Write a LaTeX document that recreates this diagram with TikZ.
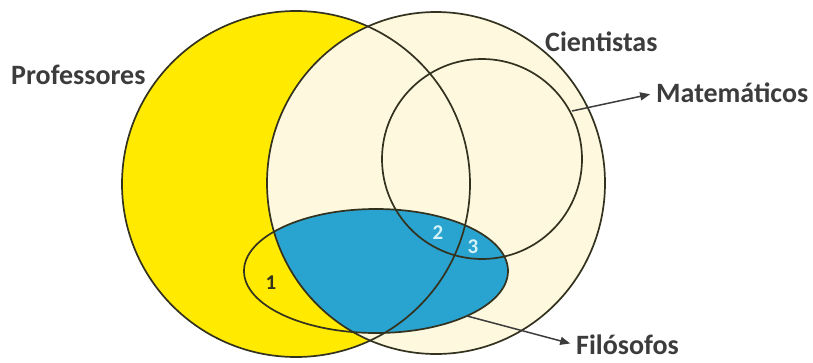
\documentclass[tikz,border=0pt]{standalone}
\usepackage{fontspec}
\setmainfont{Carlito}
\usetikzlibrary{arrows.meta}
\definecolor{profyellow}{HTML}{FFEA00}
\definecolor{cream}{HTML}{FDF8DE}
\definecolor{filblue}{HTML}{29A3CF}
\definecolor{edge}{HTML}{33321F}
\definecolor{txt}{HTML}{3C3C3C}
\definecolor{numlight}{HTML}{D4F2F8}
\tikzset{
  outline/.style={draw=edge, line width=1.7pt},
  setlabel/.style={font=\fontsize{28}{30}\selectfont\bfseries, text=txt, inner sep=0pt},
  numlabel/.style={font=\fontsize{21}{23}\selectfont\bfseries, inner sep=0pt},
  pointer/.style={draw=txt, line width=1.5pt, shorten >=6pt, -{Triangle[length=10pt,width=8pt]}}
}
\begin{document}
\begin{tikzpicture}[x=1pt,y=-1pt]
\useasboundingbox (0,0) rectangle (813,362);
% fills
\fill[profyellow] (296,184) ellipse [x radius=174pt, y radius=173pt];
\fill[cream] (436,183) ellipse [x radius=169pt, y radius=171pt];
\begin{scope}
  \clip (436,183) ellipse [x radius=169pt, y radius=171pt];
  \fill[filblue] (376,271) ellipse [x radius=132pt, y radius=62pt];
\end{scope}
% outlines
\draw[outline] (296,184) ellipse [x radius=174pt, y radius=173pt];
\draw[outline] (436,183) ellipse [x radius=169pt, y radius=171pt];
\draw[outline] (482,159) ellipse [x radius=100pt, y radius=100pt];
\draw[outline] (376,271) ellipse [x radius=132pt, y radius=62pt];
% labels
\node[setlabel, anchor=west] (prof) at (11,75) {Professores};
\node[setlabel, anchor=west] (cient) at (545,42) {Cientistas};
\node[setlabel, anchor=west] (mat) at (656,93) {Matemáticos};
\node[setlabel, anchor=west] (fil) at (576,345) {Filósofos};
% pointers
\coordinate (matstart) at (572,111);
\coordinate (filstart) at (467,316);
\draw[pointer] (matstart) -- (mat.west);
\draw[pointer] (filstart) -- (fil.west);
% numbers
\node[numlabel, text=edge] (n1) at (271,283) {1};
\node[numlabel, text=numlight] (n2) at (438,233) {2};
\node[numlabel, text=numlight] (n3) at (473,247) {3};
\end{tikzpicture}
\end{document}
